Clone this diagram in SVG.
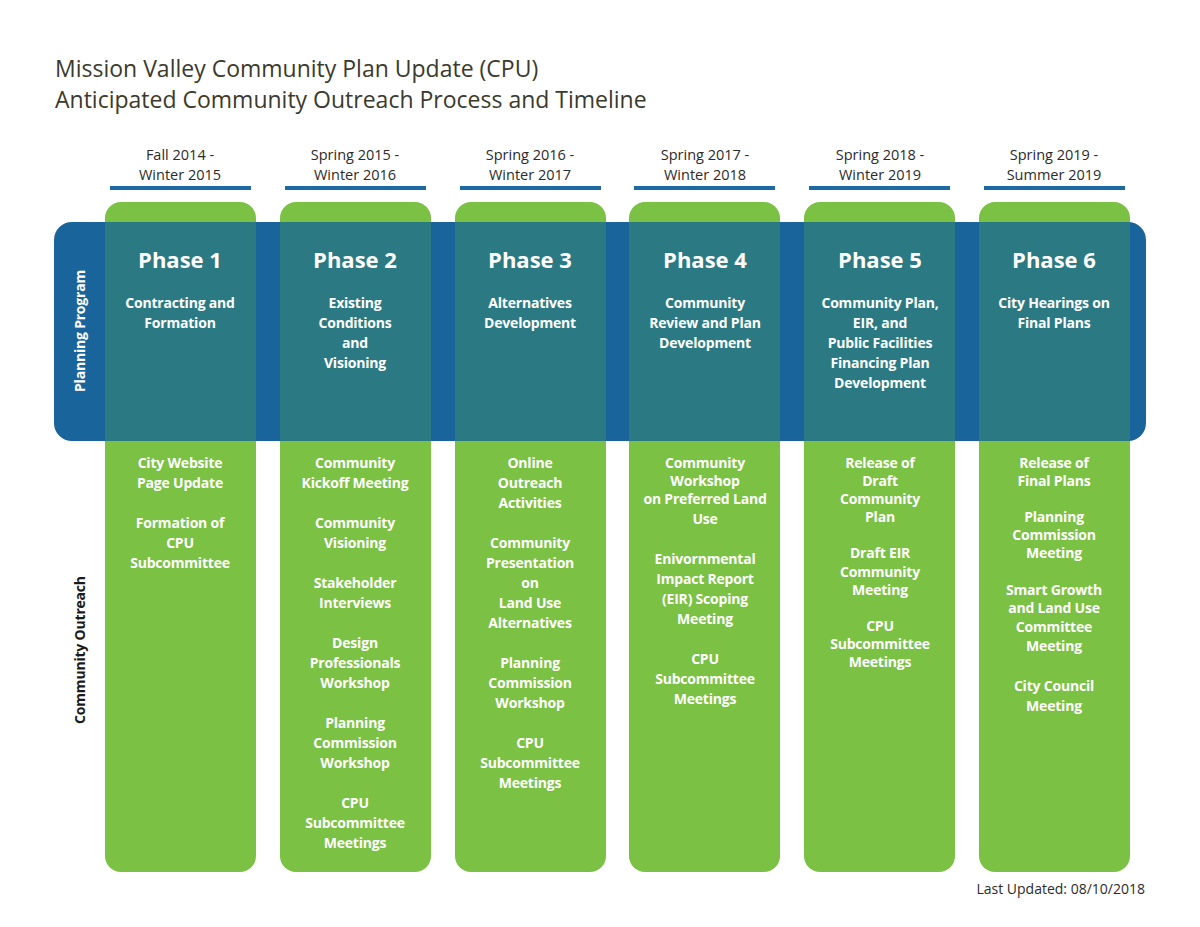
<svg xmlns="http://www.w3.org/2000/svg" width="1200" height="927" viewBox="0 0 1200 927">
<style>
text{font-family:"Open Sans","Noto Sans",sans-serif}
.t{font-size:23px;fill:#3b3a2c}
.d{font-size:14.5px;fill:#2b2b2b;text-anchor:middle}
.ph{font-size:22px;font-weight:bold;fill:#fff;text-anchor:middle}
.w{font-size:14px;font-weight:bold;fill:#fff;text-anchor:middle;letter-spacing:-0.2px}
.ul{stroke:#1d6aa0;stroke-width:4}
.g{fill:#7bc143}
.tl{fill:#2b7a83}
</style>
<rect width="1200" height="927" fill="#fff"/>
<text class="t" x="55" y="77">Mission Valley Community Plan Update (CPU)</text>
<text class="t" x="55" y="108">Anticipated Community Outreach Process and Timeline</text>
<g id="columns">
<rect class="g" x="105" y="202" width="151" height="670" rx="16"/>
<rect class="g" x="280" y="202" width="151" height="670" rx="16"/>
<rect class="g" x="455" y="202" width="151" height="670" rx="16"/>
<rect class="g" x="629" y="202" width="151" height="670" rx="16"/>
<rect class="g" x="804" y="202" width="151" height="670" rx="16"/>
<rect class="g" x="979" y="202" width="151" height="670" rx="16"/>
</g>
<g id="band">
<rect x="54" y="222" width="1092" height="219" rx="18" fill="#19649a"/>
<rect class="tl" x="105" y="222" width="151" height="219"/>
<rect class="tl" x="280" y="222" width="151" height="219"/>
<rect class="tl" x="455" y="222" width="151" height="219"/>
<rect class="tl" x="629" y="222" width="151" height="219"/>
<rect class="tl" x="804" y="222" width="151" height="219"/>
<rect class="tl" x="979" y="222" width="151" height="219"/>
<text class="w" transform="translate(85,331) rotate(-90)">Planning Program</text>
<text class="w" style="fill:#1a1a1a" transform="translate(85,650) rotate(-90)">Community Outreach</text>
</g>
<g id="headers">
<line class="ul" x1="110" y1="188" x2="251" y2="188"/>
<line class="ul" x1="285" y1="188" x2="426" y2="188"/>
<line class="ul" x1="460" y1="188" x2="601" y2="188"/>
<line class="ul" x1="634" y1="188" x2="775" y2="188"/>
<line class="ul" x1="809" y1="188" x2="950" y2="188"/>
<line class="ul" x1="984" y1="188" x2="1125" y2="188"/>
<text class="d" x="180" y="160">Fall 2014 -</text><text class="d" x="180" y="180">Winter 2015</text>
<text class="d" x="355" y="160">Spring 2015 -</text><text class="d" x="355" y="180">Winter 2016</text>
<text class="d" x="530" y="160">Spring 2016 -</text><text class="d" x="530" y="180">Winter 2017</text>
<text class="d" x="705" y="160">Spring 2017 -</text><text class="d" x="705" y="180">Winter 2018</text>
<text class="d" x="880" y="160">Spring 2018 -</text><text class="d" x="880" y="180">Winter 2019</text>
<text class="d" x="1054" y="160">Spring 2019 -</text><text class="d" x="1054" y="180">Summer 2019</text>
</g>
<g id="phase1">
<text class="ph" x="180" y="268">Phase 1</text>
<text class="w" x="180" y="308">Contracting and</text><text class="w" x="180" y="328">Formation</text>
<text class="w" x="180" y="468">City Website</text><text class="w" x="180" y="488">Page Update</text>
<text class="w" x="180" y="528">Formation of</text><text class="w" x="180" y="548">CPU</text><text class="w" x="180" y="568">Subcommittee</text>
</g>
<g id="phase2">
<text class="ph" x="355" y="268">Phase 2</text>
<text class="w" x="355" y="308">Existing</text><text class="w" x="355" y="328">Conditions</text><text class="w" x="355" y="348">and</text><text class="w" x="355" y="368">Visioning</text>
<text class="w" x="355" y="468">Community</text><text class="w" x="355" y="488">Kickoff Meeting</text>
<text class="w" x="355" y="528">Community</text><text class="w" x="355" y="548">Visioning</text>
<text class="w" x="355" y="588">Stakeholder</text><text class="w" x="355" y="608">Interviews</text>
<text class="w" x="355" y="648">Design</text><text class="w" x="355" y="668">Professionals</text><text class="w" x="355" y="688">Workshop</text>
<text class="w" x="355" y="728">Planning</text><text class="w" x="355" y="748">Commission</text><text class="w" x="355" y="768">Workshop</text>
<text class="w" x="355" y="808">CPU</text><text class="w" x="355" y="828">Subcommittee</text><text class="w" x="355" y="848">Meetings</text>
</g>
<g id="phase3">
<text class="ph" x="530" y="268">Phase 3</text>
<text class="w" x="530" y="308">Alternatives</text><text class="w" x="530" y="328">Development</text>
<text class="w" x="530" y="468">Online</text><text class="w" x="530" y="488">Outreach</text><text class="w" x="530" y="508">Activities</text>
<text class="w" x="530" y="548">Community</text><text class="w" x="530" y="568">Presentation</text><text class="w" x="530" y="588">on</text><text class="w" x="530" y="608">Land Use</text><text class="w" x="530" y="628">Alternatives</text>
<text class="w" x="530" y="668">Planning</text><text class="w" x="530" y="688">Commission</text><text class="w" x="530" y="708">Workshop</text>
<text class="w" x="530" y="748">CPU</text><text class="w" x="530" y="768">Subcommittee</text><text class="w" x="530" y="788">Meetings</text>
</g>
<g id="phase4">
<text class="ph" x="705" y="268">Phase 4</text>
<text class="w" x="705" y="308">Community</text><text class="w" x="705" y="328">Review and Plan</text><text class="w" x="705" y="348">Development</text>
<text class="w" x="705" y="468">Community</text><text class="w" x="705" y="486">Workshop</text><text class="w" x="705" y="504">on Preferred Land</text><text class="w" x="705" y="524">Use</text>
<text class="w" x="705" y="564">Enivornmental</text><text class="w" x="705" y="584">Impact Report</text><text class="w" x="705" y="604">(EIR) Scoping</text><text class="w" x="705" y="624">Meeting</text>
<text class="w" x="705" y="664">CPU</text><text class="w" x="705" y="684">Subcommittee</text><text class="w" x="705" y="704">Meetings</text>
</g>
<g id="phase5">
<text class="ph" x="880" y="268">Phase 5</text>
<text class="w" x="880" y="308">Community Plan,</text><text class="w" x="880" y="328">EIR, and</text><text class="w" x="880" y="348">Public Facilities</text><text class="w" x="880" y="368">Financing Plan</text><text class="w" x="880" y="388">Development</text>
<text class="w" x="880" y="468">Release of</text><text class="w" x="880" y="486">Draft</text><text class="w" x="880" y="504">Community</text><text class="w" x="880" y="522">Plan</text>
<text class="w" x="880" y="558">Draft EIR</text><text class="w" x="880" y="577">Community</text><text class="w" x="880" y="595">Meeting</text>
<text class="w" x="880" y="631">CPU</text><text class="w" x="880" y="649">Subcommittee</text><text class="w" x="880" y="667">Meetings</text>
</g>
<g id="phase6">
<text class="ph" x="1054" y="268">Phase 6</text>
<text class="w" x="1054" y="308">City Hearings on</text><text class="w" x="1054" y="328">Final Plans</text>
<text class="w" x="1054" y="468">Release of</text><text class="w" x="1054" y="486">Final Plans</text>
<text class="w" x="1054" y="522">Planning</text><text class="w" x="1054" y="540">Commission</text><text class="w" x="1054" y="558">Meeting</text>
<text class="w" x="1054" y="595">Smart Growth</text><text class="w" x="1054" y="613">and Land Use</text><text class="w" x="1054" y="632">Committee</text><text class="w" x="1054" y="651">Meeting</text>
<text class="w" x="1054" y="691">City Council</text><text class="w" x="1054" y="711">Meeting</text>
</g>
<text x="1145" y="894" style="font-size:14px;fill:#2b2b2b;text-anchor:end">Last Updated: 08/10/2018</text>
<g id="connectors"/>
</svg>
